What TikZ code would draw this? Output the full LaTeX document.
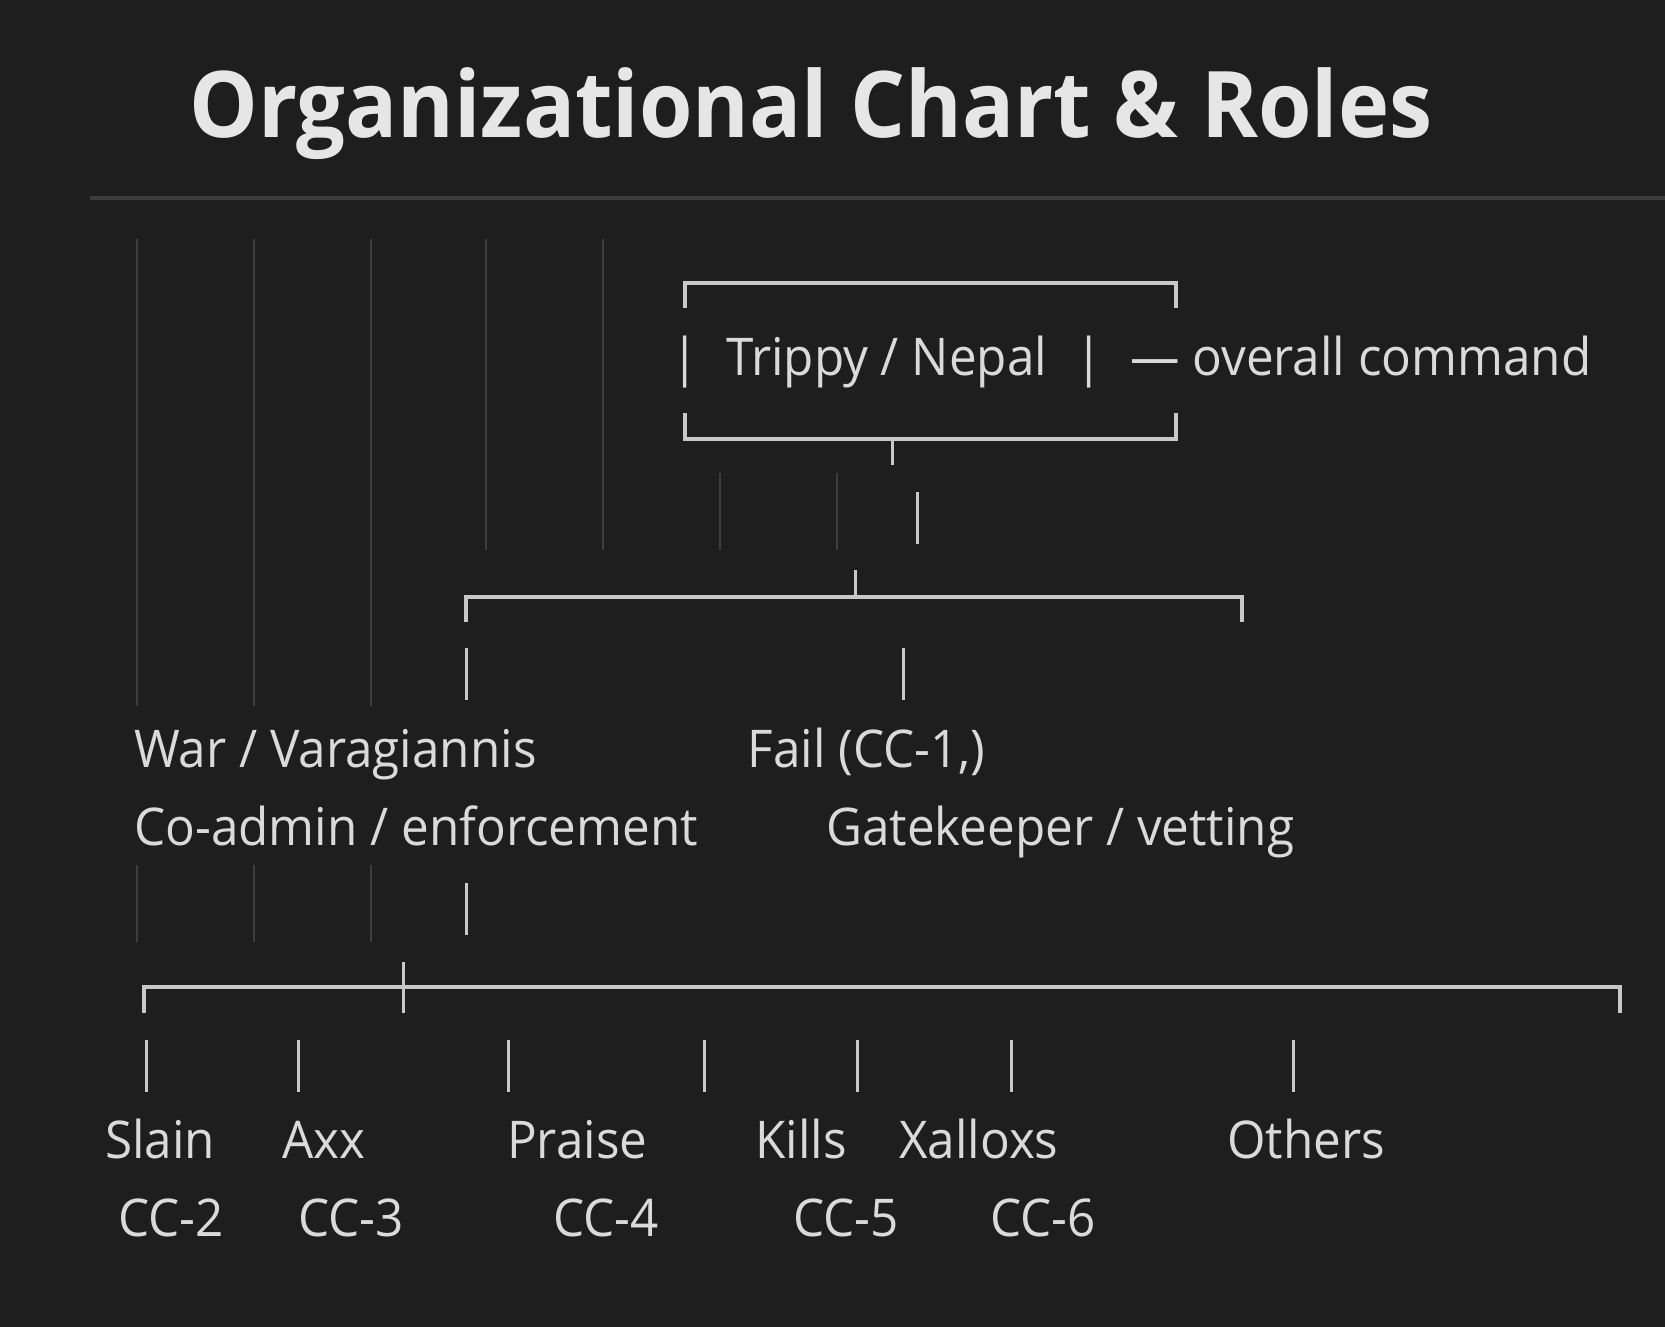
\documentclass[tikz,border=0pt]{standalone}
\usepackage{fontspec}
\setmainfont[FakeStretch=0.95]{Open Sans}
\newfontfamily\headfont[FakeStretch=0.94]{Open Sans}
\definecolor{bgdark}{HTML}{1E1E1E}
\definecolor{fgtext}{HTML}{DADADA}
\definecolor{titletext}{HTML}{E6E6E6}
\definecolor{rulegray}{HTML}{3C3C3C}
\definecolor{guidegray}{HTML}{3E3E3E}
\definecolor{wiregray}{HTML}{C8C8C8}

\begin{document}
\begin{tikzpicture}[x=1pt, y=-1pt,
  txt/.style={anchor=base west, inner sep=0pt, text=fgtext, font=\fontsize{52}{60}\selectfont},
  bar/.style={anchor=base, inner sep=0pt, text=fgtext, font=\fontsize{52}{60}\selectfont},
  guide/.style={draw=guidegray, line width=2pt},
  wire/.style={draw=wiregray, line width=4pt},
  tick/.style={draw=wiregray, line width=3pt}]
\fill [bgdark] (0, 0) rectangle (1665, 1327);
\useasboundingbox (0, 0) rectangle (1665, 1327);

% heading and rule
\node [anchor=base west, inner sep=0pt, text=titletext, font=\headfont\fontsize{92}{100}\selectfont\bfseries] (title) at (189, 138) {Organizational Chart \& Roles};
\draw [draw=rulegray, line width=4pt] (90, 197.5) -- (1665, 197.5);

% indent guides
\foreach \x in {137, 254, 371} \draw [guide] (\x, 239) -- (\x, 706);
\foreach \x in {486, 603} \draw [guide] (\x, 239) -- (\x, 550);
\foreach \x in {720, 837} \draw [guide] (\x, 473) -- (\x, 550);
\foreach \x in {137, 254, 371} \draw [guide] (\x, 865) -- (\x, 942);

% top box
\draw [wire] (685, 308) -- (685, 282.5) -- (1176, 282.5) -- (1176, 308);
\draw [wire] (685, 413) -- (685, 439) -- (1176, 439) -- (1176, 413);
\draw [tick] (892, 439) -- (892, 465);
\node [bar] (barL) at (685, 375) {|};
\node [txt] (chief) at (726, 375) {Trippy / Nepal};
\node [bar] (barR) at (1089, 375) {|};
\node [txt] (cmd) at (1130, 375) {— overall command};
\draw [tick] (917, 492) -- (917, 544);

% second level
\draw [wire] (466, 622) -- (466, 597) -- (1242, 597) -- (1242, 622);
\draw [tick] (855, 570) -- (855, 597);
\draw [tick] (466, 648) -- (466, 700);
\draw [tick] (903, 648) -- (903, 700);
\node [txt] (war) at (134, 767) {War / Varagiannis};
\node [txt] (fail) at (747.5, 767) {Fail (CC-1,)};
\node [txt] (warRole) at (134, 845) {Co-admin / enforcement};
\node [txt] (failRole) at (826, 845) {Gatekeeper / vetting};
\draw [tick] (466, 883) -- (466, 935);

% bottom level
\draw [wire] (144, 1013) -- (144, 987) -- (1620, 987) -- (1620, 1013);
\draw [tick] (403.5, 962) -- (403.5, 1013);
\foreach \x in {146, 298, 508, 704, 857.5, 1011, 1293} \draw [tick] (\x, 1040) -- (\x, 1092);
\node [txt] (slain) at (105, 1158) {Slain};
\node [txt] (axx) at (282, 1158) {Axx};
\node [txt] (praise) at (507, 1158) {Praise};
\node [txt] (kills) at (755, 1158) {Kills};
\node [txt] (xalloxs) at (899, 1158) {Xalloxs};
\node [txt] (others) at (1227, 1158) {Others};
\node [txt] (cc2) at (118, 1236) {CC-2};
\node [txt] (cc3) at (298, 1236) {CC-3};
\node [txt] (cc4) at (553, 1236) {CC-4};
\node [txt] (cc5) at (793, 1236) {CC-5};
\node [txt] (cc6) at (990, 1236) {CC-6};
\end{tikzpicture}
\end{document}
